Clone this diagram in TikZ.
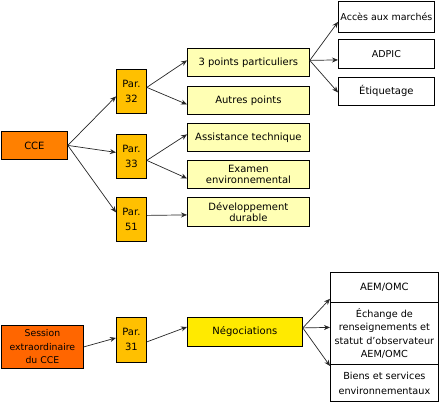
\documentclass[tikz,border=0pt]{standalone}
\usepackage{fontspec}
\setmainfont{DejaVu Sans}
\usetikzlibrary{arrows.meta}
\definecolor{cceorange}{HTML}{FF8000}
\definecolor{sessorange}{HTML}{FF6600}
\definecolor{pargold}{HTML}{FFC000}
\definecolor{lightyel}{HTML}{FFFFB4}
\definecolor{negyel}{HTML}{FFEA00}
\tikzset{
  box/.style={draw=black, line width=0.8pt, anchor=north west, inner sep=1pt, align=center,
    font=\fontsize{10}{12}\selectfont, text=black},
  parbox/.style={box, fill=pargold, minimum width=30pt, minimum height=44pt, font=\fontsize{10}{15}\selectfont},
  ybox/.style={box, fill=lightyel, minimum width=122pt, minimum height=28pt, font=\fontsize{10}{11}\selectfont},
  wbox/.style={box, fill=white, minimum width=96pt, minimum height=30pt},
  conn/.style={draw=black!85, line width=0.7pt, -{Stealth[length=6pt,width=5pt]}},
}
\begin{document}
\begin{tikzpicture}[x=1pt,y=-1pt]
\useasboundingbox (0,0) rectangle (441,404);
% top group
\node[box, fill=cceorange, minimum width=66pt, minimum height=28pt] (cce) at (1,131) {CCE};
\node[parbox] (p32) at (116,69) {Par.\\32};
\node[parbox] (p33) at (116,134) {Par.\\33};
\node[parbox] (p51) at (116,197) {Par.\\51};
\node[ybox] (tp) at (187,48) {3 points particuliers};
\node[ybox] (ap) at (187,86) {Autres points};
\node[ybox] (at) at (187,123) {Assistance technique};
\node[ybox] (ee) at (187,160) {Examen\\environnemental};
\node[ybox, minimum height=29pt] (dd) at (187,197) {Développement\\durable};
\node[wbox, minimum height=31pt, font=\fontsize{9.5}{11}\selectfont] (am) at (338,1) {Accès aux marchés};
\node[wbox, minimum height=29pt, font=\fontsize{9.5}{11}\selectfont] (adpic) at (338,39) {ADPIC};
\node[wbox, minimum height=28pt] (eti) at (338,77) {Étiquetage};
% bottom group
\node[box, fill=sessorange, minimum width=82pt, minimum height=43pt, inner sep=0pt, font=\fontsize{9.3}{13.5}\selectfont] (sess) at (1,325) {Session\\extraordinaire\\du CCE};
\node[parbox, minimum height=45pt] (p31) at (116,317) {Par.\\31};
\node[box, fill=negyel, minimum width=115pt, minimum height=29pt] (neg) at (187,317) {Négociations};
\node[box, fill=white, minimum width=108pt, minimum height=30pt] (aem) at (330,272) {AEM/OMC};
\node[box, fill=white, minimum width=108pt, minimum height=62pt, font=\fontsize{9.7}{13.3}\selectfont] (ech) at (330,302) {Échange de\\renseignements et\\statut d'observateur\\AEM/OMC};
\node[box, fill=white, minimum width=108pt, minimum height=37pt, font=\fontsize{9.7}{15}\selectfont] (bs) at (330,364) {Biens et services\\environnementaux};
% connectors
\coordinate (cceo) at (cce.east);
\draw[conn] (cceo) -- ([yshift=-5pt]p32.west);
\draw[conn] (cceo) -- ([yshift=4pt]p33.west);
\draw[conn] (cceo) -- ([yshift=7pt]p51.west);
\draw[conn] ([yshift=4pt]p32.east) -- ([yshift=2pt]tp.west);
\draw[conn] ([yshift=4pt]p32.east) -- ([yshift=-4pt]ap.west);
\draw[conn] ([yshift=-4pt]p33.east) -- ([yshift=3pt]at.west);
\draw[conn] ([yshift=-4pt]p33.east) -- ([yshift=-4pt]ee.west);
\draw[conn] ([yshift=4pt]p51.east) -- ([yshift=-3pt]dd.west);
\draw[conn] ([yshift=2pt]tp.east) -- ([yshift=-5pt]am.west);
\draw[conn] ([yshift=2pt]tp.east) -- ([yshift=-6pt]adpic.west);
\draw[conn] ([yshift=2pt]tp.east) -- ([yshift=-1pt]eti.west);
\draw[conn] (sess.east) -- ([yshift=2pt]p31.west);
\draw[conn] ([yshift=-2pt]p31.east) -- ([yshift=5pt]neg.west);
\draw[conn] ([yshift=4pt]neg.east) -- ([yshift=4pt]aem.south west);
\draw[conn] ([yshift=4pt]neg.east) -- ([yshift=6pt]ech.west);
\draw[conn] ([yshift=4pt]neg.east) -- ([yshift=-2pt]bs.north west);
\end{tikzpicture}
\end{document}
